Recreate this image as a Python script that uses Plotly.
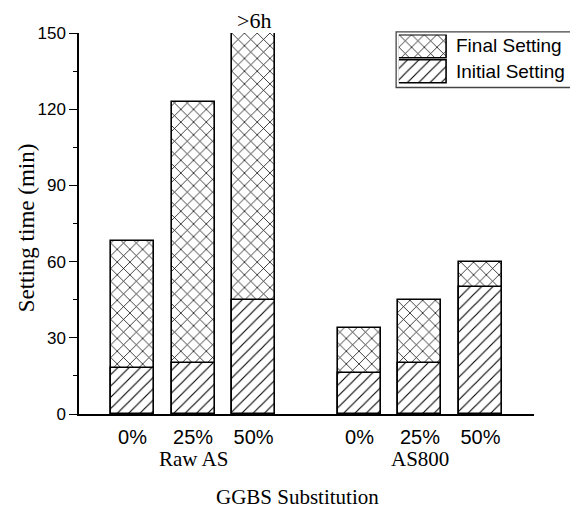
import plotly.graph_objects as go

# Setting times (min) for each GGBS substitution level
groups = ["Raw AS", "AS800"]
levels = ["0%", "25%", "50%"]
initial_setting = [18, 20, 45, 16, 20, 50]
final_setting = [68, 123, 360, 34, 45, 60]   # 360 min = 6 h, runs past the axis
final_note = ">6h"
legend_labels = ["Initial Setting", "Final Setting"]

SERIF = "Liberation Serif"
SANS = "Liberation Sans"

group_step = 3.75
xpos = [g * group_step + i for g in range(len(groups)) for i in range(len(levels))]
tick_text = [lv for _ in groups for lv in levels]
group_centers = [g * group_step + (len(levels) - 1) / 2 for g in range(len(groups))]

cross = dict(shape="x", size=9, solidity=0.16, fgcolor="black", fgopacity=1, bgcolor="white")
diag = dict(shape="/", size=8, solidity=0.14, fgcolor="black", fgopacity=1, bgcolor="white")
outline = dict(color="black", width=1.6)

fig = go.Figure()
fig.add_trace(go.Bar(
    x=xpos, y=final_setting, width=0.71, name="Final Setting",
    marker=dict(color="white", pattern=cross, line=outline),
    showlegend=False, hoverinfo="skip"))
fig.add_trace(go.Bar(
    x=xpos, y=initial_setting, width=0.71, name="Initial Setting",
    marker=dict(color="white", pattern=diag, line=outline),
    showlegend=False, hoverinfo="skip"))

# legend swatches drawn as bars in a small inset axis
fig.add_trace(go.Bar(
    y=legend_labels, x=[1, 1], orientation="h", width=0.92,
    xaxis="x2", yaxis="y2", cliponaxis=False,
    marker=dict(color="white", pattern=dict(shape=["/", "x"], size=[8, 9], solidity=[0.14, 0.16],
                                            fgcolor="black", fgopacity=1, bgcolor="white"),
                line=outline),
    showlegend=False, hoverinfo="skip"))

fig.update_layout(
    width=570, height=508,
    margin=dict(l=79, r=36, t=33, b=94),
    paper_bgcolor="white", plot_bgcolor="white",
    barmode="overlay", bargap=0,
    showlegend=False,
    font=dict(family=SANS, color="black"),
    xaxis=dict(
        range=[-0.884, 6.634], tickmode="array", tickvals=xpos, ticktext=tick_text,
        showline=True, linecolor="black", linewidth=1.5, ticks="",
        showgrid=False, zeroline=False, tickfont=dict(family=SANS, size=20),
        ticklabelstandoff=4),
    yaxis=dict(
        range=[0, 150], tickvals=[0, 30, 60, 90, 120, 150],
        showline=True, linecolor="black", linewidth=1.5,
        ticks="outside", ticklen=8, tickwidth=1.2, tickcolor="black",
        minor=dict(tickvals=[15, 45, 75, 105, 135], ticks="outside", ticklen=4,
                   tickwidth=1.2, tickcolor="black"),
        showgrid=False, zeroline=False, tickfont=dict(family=SANS, size=17)),
    xaxis2=dict(domain=[0.703, 0.809], anchor="y2", range=[0, 1], visible=False, fixedrange=True),
    yaxis2=dict(domain=[0.866, 0.996], anchor="x2", range=[-0.5, 1.5], visible=False, fixedrange=True),
)

# legend frame and entry texts
fig.add_shape(type="rect", xref="paper", yref="paper", x0=0.697, x1=1.2, y0=0.857, y1=1.003,
              line=dict(color="#444444", width=1.3), fillcolor="rgba(0,0,0,0)", layer="below")
for lab, yp in zip(legend_labels, [0.898, 0.966]):
    fig.add_annotation(text=lab, xref="paper", yref="paper", x=0.824, y=yp,
                       xanchor="left", yanchor="middle", showarrow=False,
                       font=dict(family=SANS, size=19))

# group labels under the tick labels
for name, cx in zip(groups, group_centers):
    fig.add_annotation(text=name, x=cx, xref="x", y=-0.118, yref="paper",
                       showarrow=False, xanchor="center", yanchor="middle",
                       font=dict(family=SERIF, size=21))

# note above the truncated bar
fig.add_annotation(text=final_note, x=xpos[2], xref="x", y=150, yref="y",
                   yshift=13, showarrow=False, xanchor="center", yanchor="middle",
                   font=dict(family=SERIF, size=22))

fig.add_annotation(text="GGBS Substitution", xref="paper", yref="paper", x=0.481, y=-0.218,
                   showarrow=False, xanchor="center", yanchor="middle",
                   font=dict(family=SERIF, size=21))
fig.add_annotation(text="Setting time (min)", xref="paper", yref="paper", x=-0.1165, y=0.49,
                   textangle=-90, showarrow=False, xanchor="center", yanchor="middle",
                   font=dict(family=SERIF, size=23))

fig.write_html("out.html")
